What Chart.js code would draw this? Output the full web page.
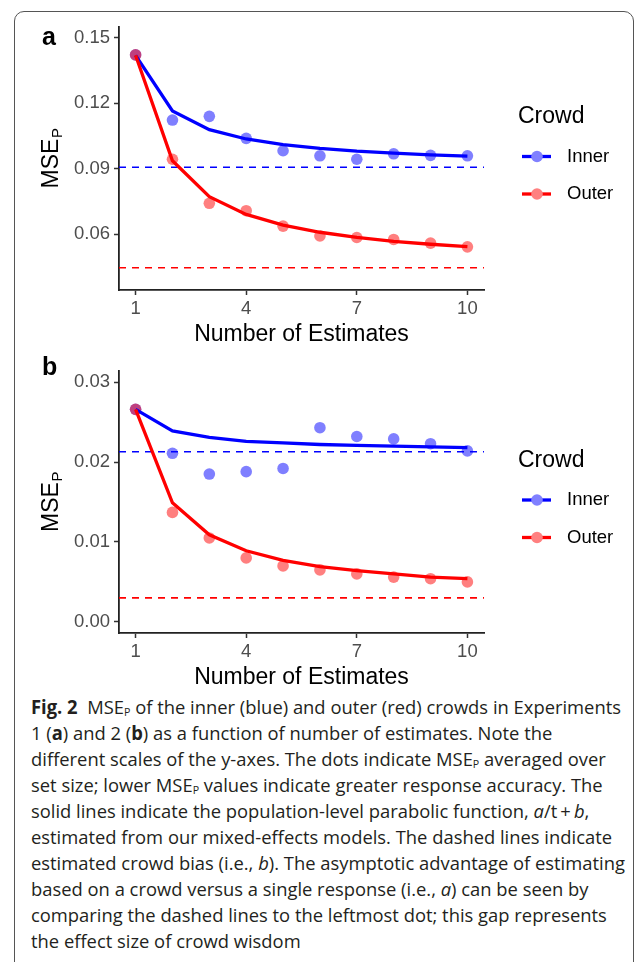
<!DOCTYPE html>
<html>
<head>
<meta charset="utf-8">
<script src="https://cdn.jsdelivr.net/npm/chart.js@4.4.1/dist/chart.umd.min.js"></script>
<style>
  body { margin: 0; background: #fff; width: 636px; height: 962px; overflow: hidden; position: relative; }
  #frame { position: absolute; left: 14px; top: 11px; width: 620px; height: 1000px; border: 1px solid #555; border-radius: 10px; box-sizing: border-box; }
  canvas { position: absolute; left: 0; }
  #chartA { top: 0; }
  #chartB { top: 348px; }
  #caption { position: absolute; left: 31px; top: 694px; font-family: "Open Sans", "Noto Sans", sans-serif; font-size: 19px; line-height: 26px; color: #231f20; }
  .ln { white-space: nowrap; transform-origin: 0 50%; width: max-content; }
  .ln sub { font-size: 11px; line-height: 0; vertical-align: -2px; }
</style>
</head>
<body>
<div id="frame"></div>
<canvas id="chartA" width="636" height="348"></canvas>
<canvas id="chartB" width="636" height="343"></canvas>
<div id="caption">
  <div class="ln"><b>Fig. 2</b>&nbsp; MSE<sub>P</sub> of the inner (blue) and outer (red) crowds in Experiments</div>
  <div class="ln">1 (<b>a</b>) and 2 (<b>b</b>) as a function of number of estimates. Note the</div>
  <div class="ln">different scales of the y-axes. The dots indicate MSE<sub>P</sub> averaged over</div>
  <div class="ln">set size; lower MSE<sub>P</sub> values indicate greater response accuracy. The</div>
  <div class="ln">solid lines indicate the population-level parabolic function, <i>a</i>/t&#8201;+&#8201;<i>b</i>,</div>
  <div class="ln">estimated from our mixed-effects models. The dashed lines indicate</div>
  <div class="ln">estimated crowd bias (i.e., <i>b</i>). The asymptotic advantage of estimating</div>
  <div class="ln">based on a crowd versus a single response (i.e., <i>a</i>) can be seen by</div>
  <div class="ln">comparing the dashed lines to the leftmost dot; this gap represents</div>
  <div class="ln">the effect size of crowd wisdom</div>
</div>
<script>
// x values shared by both panels
const estimates = [1, 2, 3, 4, 5, 6, 7, 8, 9, 10];
const xTicks = [1, 4, 7, 10];
const xRange = [0.55, 10.45];

// panel a (Experiment 1)
const innerDotsA = [0.1422, 0.1123, 0.1140, 0.1039, 0.0982, 0.0959, 0.0943, 0.0968, 0.0961, 0.0959];
const outerDotsA = [0.1422, 0.0943, 0.0741, 0.0707, 0.0636, 0.0591, 0.0584, 0.0575, 0.0558, 0.0541];
const innerFitA = [0.1420, 0.1165, 0.1079, 0.1036, 0.1010, 0.0993, 0.0980, 0.0971, 0.0963, 0.0957];
const outerFitA = [0.1420, 0.0936, 0.0771, 0.0690, 0.0641, 0.0608, 0.0584, 0.0566, 0.0553, 0.0542];
const innerBiasA = 0.0906;
const outerBiasA = 0.0445;
const yTicksA = [0.06, 0.09, 0.12, 0.15];
const yRangeA = [0.0343, 0.155];

// panel b (Experiment 2)
const innerDotsB = [0.0266, 0.0211, 0.0185, 0.0188, 0.0192, 0.0243, 0.0232, 0.0229, 0.0223, 0.0214];
const outerDotsB = [0.0266, 0.0137, 0.0105, 0.0080, 0.0070, 0.0065, 0.0060, 0.0056, 0.0054, 0.0050];
const innerFitB = [0.0266, 0.0239, 0.0231, 0.0226, 0.0224, 0.0222, 0.0221, 0.0220, 0.0219, 0.0218];
const outerFitB = [0.0266, 0.0149, 0.0109, 0.0089, 0.0077, 0.0069, 0.0064, 0.0060, 0.0056, 0.0054];
const innerBiasB = 0.0213;
const outerBiasB = 0.0030;
const yTicksB = [0.00, 0.01, 0.02, 0.03];
const yRangeB = [-0.0014, 0.0314];

const crowdNames = ['Inner', 'Outer'];

const FONT = '"Liberation Sans", Arial, sans-serif';
Chart.defaults.font.family = FONT;

const BLUE = '#0000ff';
const RED = '#ff0000';

const pts = (ys) => ys.map((y, i) => ({ x: estimates[i], y: y }));
const hline = (y) => [{ x: xRange[0], y: y }, { x: xRange[1], y: y }];

// panel letter, y title with subscript, and the legend
const extras = {
  id: 'extras',
  afterDraw(chart, args, o) {
    const ctx = chart.ctx;
    const a = chart.chartArea;
    const cy = (a.top + a.bottom) / 2;
    ctx.save();
    ctx.fillStyle = '#000';
    ctx.textAlign = 'left';
    ctx.textBaseline = 'alphabetic';
    ctx.font = 'bold 25px ' + FONT;
    ctx.fillText(o.letter, 42, o.letterY);

    // MSE_P rotated
    ctx.save();
    ctx.translate(58, cy);
    ctx.rotate(-Math.PI / 2);
    ctx.font = '23px ' + FONT;
    const w1 = ctx.measureText('MSE').width;
    ctx.font = '15px ' + FONT;
    const w2 = ctx.measureText('P').width;
    const x0 = -(w1 + w2) / 2;
    ctx.font = '23px ' + FONT;
    ctx.fillText('MSE', x0, 0);
    ctx.font = '15px ' + FONT;
    ctx.fillText('P', x0 + w1 + 0.5, 4);
    ctx.restore();

    // legend
    ctx.textBaseline = 'middle';
    ctx.font = '23px ' + FONT;
    ctx.fillText('Crowd', 518, cy - 41.5);
    const rows = [[crowdNames[0], BLUE, '#8080ff', cy - 2], [crowdNames[1], RED, '#ff8080', cy + 35.5]];
    ctx.font = '18.5px ' + FONT;
    rows.forEach(r => {
      ctx.strokeStyle = r[1];
      ctx.lineWidth = 3.3;
      ctx.beginPath();
      ctx.moveTo(522, r[3]);
      ctx.lineTo(551, r[3]);
      ctx.stroke();
      ctx.fillStyle = r[2];
      ctx.beginPath();
      ctx.arc(537, r[3], 5.8, 0, Math.PI * 2);
      ctx.fill();
      ctx.fillStyle = '#000';
      ctx.fillText(r[0], 567, r[3]);
    });
    ctx.restore();
  }
};

function makeChart(id, d) {
  return new Chart(document.getElementById(id), {
    type: 'scatter',
    data: {
      datasets: [
        { label: 'Outer fit', data: pts(d.outerFit), showLine: true, borderColor: RED, borderWidth: 3.3, pointRadius: 0, tension: 0, order: 0 },
        { label: 'Inner fit', data: pts(d.innerFit), showLine: true, borderColor: BLUE, borderWidth: 3.3, pointRadius: 0, tension: 0, order: 1 },
        { label: 'Outer dots', data: pts(d.outerDots), showLine: false, pointRadius: 5.8, pointBackgroundColor: 'rgba(255,0,0,0.5)', pointBorderWidth: 0, order: 2 },
        { label: 'Inner dots', data: pts(d.innerDots), showLine: false, pointRadius: 5.8, pointBackgroundColor: 'rgba(0,0,255,0.5)', pointBorderWidth: 0, order: 3 },
        { label: 'Outer bias', data: hline(d.outerBias), showLine: true, borderColor: RED, borderWidth: 1.6, borderDash: [7, 6], pointRadius: 0, order: 4 },
        { label: 'Inner bias', data: hline(d.innerBias), showLine: true, borderColor: BLUE, borderWidth: 1.6, borderDash: [7, 6], pointRadius: 0, order: 5 }
      ]
    },
    options: {
      responsive: false,
      animation: false,
      events: [],
      layout: { padding: { left: 0, top: d.padTop, right: 152, bottom: 0 } },
      plugins: {
        legend: { display: false },
        tooltip: { enabled: false },
        extras: { letter: d.letter, letterY: d.letterY }
      },
      scales: {
        x: {
          type: 'linear',
          min: xRange[0],
          max: xRange[1],
          afterBuildTicks: s => { s.ticks = xTicks.map(v => ({ value: v })); },
          afterFit: s => { s.height = 58; },
          ticks: { color: '#4d4d4d', font: { size: 18.5 }, padding: 3, maxRotation: 0, callback: v => String(v) },
          grid: { display: true, drawOnChartArea: false, drawTicks: true, tickLength: 5, tickColor: '#333', tickWidth: 1.5 },
          border: { display: true, color: '#222', width: 1.8 },
          title: { display: true, text: 'Number of Estimates', color: '#000', font: { size: 23 }, padding: { top: 0, bottom: 0 } }
        },
        y: {
          type: 'linear',
          min: d.yRange[0],
          max: d.yRange[1],
          afterBuildTicks: s => { s.ticks = d.yTicks.map(v => ({ value: v })); },
          afterFit: s => { s.width = 119; },
          ticks: { color: '#4d4d4d', font: { size: 18.5 }, padding: 4, callback: v => v.toFixed(2) },
          grid: { display: true, drawOnChartArea: false, drawTicks: true, tickLength: 5, tickColor: '#333', tickWidth: 1.5 },
          border: { display: true, color: '#222', width: 1.8 }
        }
      }
    },
    plugins: [extras]
  });
}

makeChart('chartA', {
  innerDots: innerDotsA, outerDots: outerDotsA, innerFit: innerFitA, outerFit: outerFitA,
  innerBias: innerBiasA, outerBias: outerBiasA, yTicks: yTicksA, yRange: yRangeA,
  padTop: 27, letter: 'a', letterY: 45
});
makeChart('chartB', {
  innerDots: innerDotsB, outerDots: outerDotsB, innerFit: innerFitB, outerFit: outerFitB,
  innerBias: innerBiasB, outerBias: outerBiasB, yTicks: yTicksB, yRange: yRangeB,
  padTop: 23, letter: 'b', letterY: 27
});

// squeeze the caption lines to the width of the printed caption
const lines = document.querySelectorAll('#caption .ln');
const k = 590 / lines[0].getBoundingClientRect().width;
lines.forEach(l => { l.style.transform = 'scaleX(' + k + ')'; });
</script>
</body>
</html>
